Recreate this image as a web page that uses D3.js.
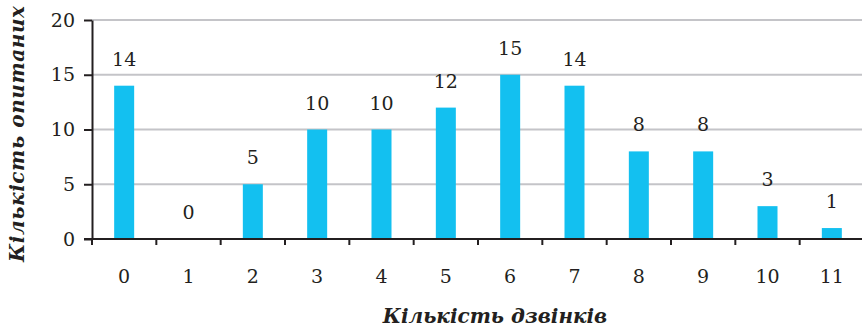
<!DOCTYPE html>
<html>
<head>
<meta charset="utf-8">
<script src="https://cdn.jsdelivr.net/npm/d3@7"></script>
<style>
  html, body { margin: 0; padding: 0; background: #fff; }
  svg { display: block; }
</style>
</head>
<body>
<svg id="chart" width="862" height="329"></svg>
<script>
// Number of calls made (categories) and number of respondents for each
const categories = ["0", "1", "2", "3", "4", "5", "6", "7", "8", "9", "10", "11"];
const respondents = [14, 0, 5, 10, 10, 12, 15, 14, 8, 8, 3, 1];
const yTicks = [0, 5, 10, 15, 20];
const xTitle = "Кількість дзвінків";
const yTitle = "Кількість опитаних";

const svg = d3.select("#chart");
const plotLeft = 92, plotRight = 864, plotTop = 20, plotBottom = 239;
const serif = "'DejaVu Serif', serif";
const ink = "#231f20";

const x = d3.scaleBand().domain(categories).range([plotLeft, plotRight]);
const y = d3.scaleLinear().domain([0, 20]).range([plotBottom, plotTop]);
const barW = 20;

// Horizontal grid lines
svg.append("g")
  .selectAll("line")
  .data(yTicks.filter(d => d > 0))
  .join("line")
  .attr("x1", plotLeft).attr("x2", 862)
  .attr("y1", d => y(d)).attr("y2", d => y(d))
  .attr("stroke", "#c4c4c8").attr("stroke-width", 2);

// Bars
svg.append("g")
  .selectAll("rect")
  .data(respondents)
  .join("rect")
  .attr("x", (d, i) => x(categories[i]) + x.bandwidth() / 2 - barW / 2)
  .attr("width", barW)
  .attr("y", d => y(d))
  .attr("height", d => plotBottom - y(d))
  .attr("fill", "#13c0f0");

// Value labels above the bars
svg.append("g")
  .selectAll("text")
  .data(respondents)
  .join("text")
  .attr("x", (d, i) => x(categories[i]) + x.bandwidth() / 2)
  .attr("y", d => y(d) - 20)
  .attr("text-anchor", "middle")
  .attr("font-family", serif)
  .attr("font-size", 19)
  .attr("fill", ink)
  .text(d => d);

// Y axis
const yAxis = svg.append("g")
  .attr("transform", `translate(${plotLeft},0)`)
  .call(d3.axisLeft(y).tickValues(yTicks).tickSize(8).tickPadding(9).tickSizeOuter(0));
yAxis.select(".domain").attr("stroke", ink).attr("stroke-width", 2);
yAxis.selectAll(".tick line").attr("stroke", ink).attr("stroke-width", 2);
yAxis.selectAll(".tick text")
  .attr("font-family", serif).attr("font-size", 19).attr("fill", ink);

// X axis: ticks at the band boundaries, labels at the band centres
const xAxis = svg.append("g").attr("transform", `translate(0,${plotBottom})`);
xAxis.append("line")
  .attr("x1", plotLeft - 8).attr("x2", 862)
  .attr("stroke", ink).attr("stroke-width", 2);
xAxis.selectAll(".tk")
  .data(categories)
  .join("line")
  .attr("class", "tk")
  .attr("x1", d => x(d)).attr("x2", d => x(d))
  .attr("y1", 0).attr("y2", 6)
  .attr("stroke", ink).attr("stroke-width", 2);
xAxis.selectAll(".lbl")
  .data(categories)
  .join("text")
  .attr("class", "lbl")
  .attr("x", d => x(d) + x.bandwidth() / 2)
  .attr("y", 44)
  .attr("text-anchor", "middle")
  .attr("font-family", serif)
  .attr("font-size", 19)
  .attr("fill", ink)
  .text(d => d);

// Axis titles
svg.append("text")
  .attr("x", 495).attr("y", 323)
  .attr("text-anchor", "middle")
  .attr("font-family", serif)
  .attr("font-size", 20)
  .attr("font-weight", "bold")
  .attr("font-style", "italic")
  .attr("fill", ink)
  .text(xTitle);

svg.append("text")
  .attr("transform", "translate(24,134) rotate(-90)")
  .attr("text-anchor", "middle")
  .attr("font-family", serif)
  .attr("font-size", 20)
  .attr("font-weight", "bold")
  .attr("font-style", "italic")
  .attr("textLength", 256)
  .attr("lengthAdjust", "spacing")
  .attr("fill", ink)
  .text(yTitle);
</script>
</body>
</html>
